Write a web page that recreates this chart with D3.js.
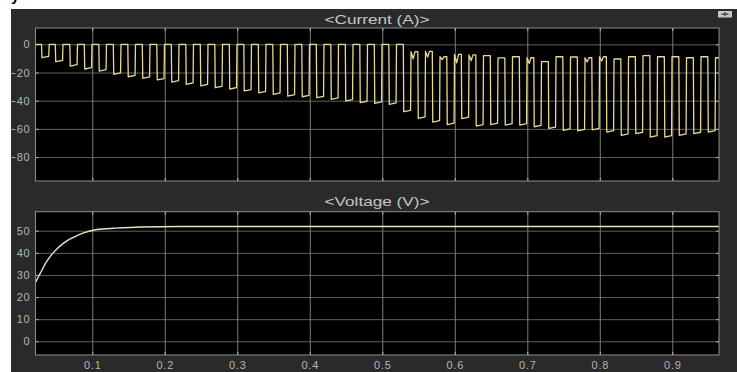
<!DOCTYPE html>
<html><head><meta charset="utf-8">
<script src="https://cdn.jsdelivr.net/npm/d3@7"></script>
<style>
html,body{margin:0;padding:0;background:#fff;overflow:hidden;}
svg{display:block;}
text{font-family:"Liberation Sans",Arial,Helvetica,sans-serif;}
</style></head><body>
<svg id="c" width="737" height="372"></svg>
<script>
// ---- data ----
const xTicks = [0.1,0.2,0.3,0.4,0.5,0.6,0.7,0.8,0.9];
const currentTicks = [0,-20,-40,-60,-80];
const voltageTicks = [0,10,20,30,40,50];
const titles = ["<Current (A)>", "<Voltage (V)>"];

// times (s) at which each current pulse falls
const fallTimes = [0.030,0.049,0.069,0.089,0.109,0.129,0.149,0.169,0.189,0.209,
  0.229,0.249,0.269,0.289,0.309,0.329,0.349,0.369,0.389,0.409,
  0.429,0.449,0.469,0.489,0.509,0.529,0.549,0.569,0.589,0.609,
  0.629,0.649,0.669,0.689,0.709,0.729,0.749,0.769,0.789,0.809,
  0.829,0.849,0.869,0.889,0.909,0.929,0.949];
// bottom level of each pulse (A)
const lowLevels = [-9.5,-12.3,-15.4,-17.5,-19,-21.3,-23,-24.1,-25.3,-26.8,
  -28.4,-29.4,-30.8,-31.7,-33.1,-34.4,-35.5,-36.7,-37.2,-37.9,
  -39,-40.2,-41.4,-41.9,-42.6,-47.8,-52.5,-55.2,-57,-52.7,
  -58,-57,-57.3,-57.3,-58.5,-59.7,-61,-61.4,-60.7,-62.3,
  -64.6,-63.4,-65.8,-65.8,-64.6,-63.4,-62.3];
// top level before each fall (last entry: after the final pulse)
const highLevels = [0,0,0,0,0,0,0,0,0,0,
  0,0,0,0,0,0,0,0,0,0,
  0,0,0,0,0,0,-5.2,-5,-8.8,-7.1,
  -7.5,-8,-9.6,-8.8,-9.5,-12.3,-8.8,-9,-9.5,-8.8,
  -10.4,-8.8,-8,-8.8,-8.8,-9.5,-8.8,-9.5];
// dip in the middle of each top segment (M-shaped tops)
const highDips = [0,0,0,0,0,0,0,0,0,0,
  0,0,0,0,0,0,0,0,0,0,
  0,0,0,0,0,0,-5,-4,-2,-6,
  -4,0,0,0,-4,0,0,0,-3,-3,
  0,0,0,0,0,0,0,0];

const voltageT = [0.0217,0.028,0.037,0.046,0.060,0.074,0.088,0.101,0.115,0.129,0.166,0.22,0.40,0.9644];
const voltageV = [26.6,30.6,36,40,44.3,47,49,50.2,50.8,51.1,51.7,51.9,51.9,51.9];

// ---- layout ----
const W = 737, H = 372;
const L = 35.5, R = 719;
const panels = [
  {top:28, bottom:181, domain:[-97,11.6], ticks:currentTicks, title:titles[0], titleY:24, xLabels:false},
  {top:211.7, bottom:355, domain:[-6.2,58.6], ticks:voltageTicks, title:titles[1], titleY:206, xLabels:true}
];

const svg = d3.select("#c");
svg.append("rect").attr("x",11).attr("y",9).attr("width",W-11).attr("height",H-9).attr("fill","#2a2a2a");

// partial caption glyph at top-left
svg.append("text").attr("x",11).attr("y",1).attr("font-family","Liberation Serif,serif")
  .attr("font-weight","bold").attr("font-size",15).attr("fill","#000").text("y");

// small button top-right
svg.append("rect").attr("x",718).attr("y",11).attr("width",14).attr("height",6.5).attr("fill","#c9c9c9").attr("rx",0.5);
svg.append("path").attr("d","M721.5,14.2H728.5M725,12.2V16.2").attr("stroke","#333").attr("stroke-width",1.2);

const x = d3.scaleLinear().domain([0.0217,0.9644]).range([L,R]);

// current series points
const cur = [[0.0217, highLevels[0]]];
fallTimes.forEach((tf,k)=>{
  cur.push([tf, highLevels[k]]);
  cur.push([tf+0.0006, lowLevels[k]]);
  cur.push([tf+0.0100, lowLevels[k]+1]);
  const tr = tf+0.0106, h = highLevels[k+1];
  cur.push([tr, h]);
  if (highDips[k+1] !== 0) {
    cur.push([tr+0.0030, h+highDips[k+1]]);
    cur.push([tr+0.0055, h]);
  }
});
cur.push([0.9644, highLevels[highLevels.length-1]]);
const volt = voltageT.map((t,i)=>[t, voltageV[i]]);
const series = [cur, volt];

panels.forEach((p,i)=>{
  const y = d3.scaleLinear().domain(p.domain).range([p.bottom,p.top]);
  const w = R-L, h = p.bottom-p.top;
  const g = svg.append("g").attr("transform",`translate(${L},${p.top})`);
  const yl = d3.scaleLinear().domain(p.domain).range([h,0]);
  const xl = d3.scaleLinear().domain(x.domain()).range([0,w]);

  g.append("rect").attr("width",w).attr("height",h).attr("fill","#000");

  // horizontal grid
  const gy = g.append("g").call(d3.axisLeft(yl).tickValues(p.ticks).tickSize(-w).tickFormat(""));
  gy.select(".domain").remove();
  gy.selectAll("line").attr("stroke","#5f5f5f").attr("stroke-width",1);
  // vertical grid
  const gx = g.append("g").attr("transform",`translate(0,${h})`)
    .call(d3.axisBottom(xl).tickValues(xTicks).tickSize(-h).tickFormat(""));
  gx.select(".domain").remove();
  gx.selectAll("line").attr("stroke","#7c7c7c").attr("stroke-width",1);

  // inward ticks on all sides
  const tk = [
    g.append("g").call(d3.axisRight(yl).tickValues(p.ticks).tickSize(3).tickFormat("")),
    g.append("g").attr("transform",`translate(${w},0)`).call(d3.axisLeft(yl).tickValues(p.ticks).tickSize(3).tickFormat("")),
    g.append("g").attr("transform",`translate(0,${h})`).call(d3.axisTop(xl).tickValues(xTicks).tickSize(3).tickFormat("")),
    g.append("g").call(d3.axisBottom(xl).tickValues(xTicks).tickSize(3).tickFormat(""))
  ];
  tk.forEach(a=>{a.select(".domain").remove(); a.selectAll("line").attr("stroke","#b5b5b5");});

  // clip + line
  const cid = "clip"+i;
  svg.append("clipPath").attr("id",cid).append("rect").attr("width",w).attr("height",h);
  const line = d3.line().x(d=>xl(d[0])).y(d=>yl(d[1]));
  if (i===1) line.curve(d3.curveMonotoneX);
  g.append("path").datum(series[i]).attr("clip-path",`url(#${cid})`)
    .attr("fill","none")
    .attr("stroke", i===0 ? "#e8da8e" : "#ebe4c2")
    .attr("stroke-width", i===0 ? 1.3 : 1.4)
    .attr("stroke-linejoin","round")
    .attr("d", line);

  // frame
  g.append("rect").attr("width",w).attr("height",h).attr("fill","none").attr("stroke","#8e8e8e").attr("stroke-width",1);

  // y labels
  const ya = g.append("g").call(d3.axisLeft(yl).tickValues(p.ticks).tickSize(0).tickPadding(5));
  ya.select(".domain").remove();
  ya.selectAll("text").attr("fill","#b6b6b6").attr("font-size",11).attr("letter-spacing","0.8px")
    .attr("font-family","Liberation Sans,Arial,sans-serif");

  if (p.xLabels) {
    const xa = g.append("g").attr("transform",`translate(0,${h})`)
      .call(d3.axisBottom(xl).tickValues(xTicks).tickSize(0).tickPadding(6));
    xa.select(".domain").remove();
    xa.selectAll("text").attr("fill","#b6b6b6").attr("font-size",11).attr("letter-spacing","0.8px")
      .attr("font-family","Liberation Sans,Arial,sans-serif");
  }

  // title
  svg.append("text").attr("x",377).attr("y",p.titleY).attr("text-anchor","middle")
    .attr("fill","#c6c6c6").attr("font-size",13).attr("textLength",105).attr("lengthAdjust","spacingAndGlyphs")
    .text(p.title);
});
</script>
</body></html>
